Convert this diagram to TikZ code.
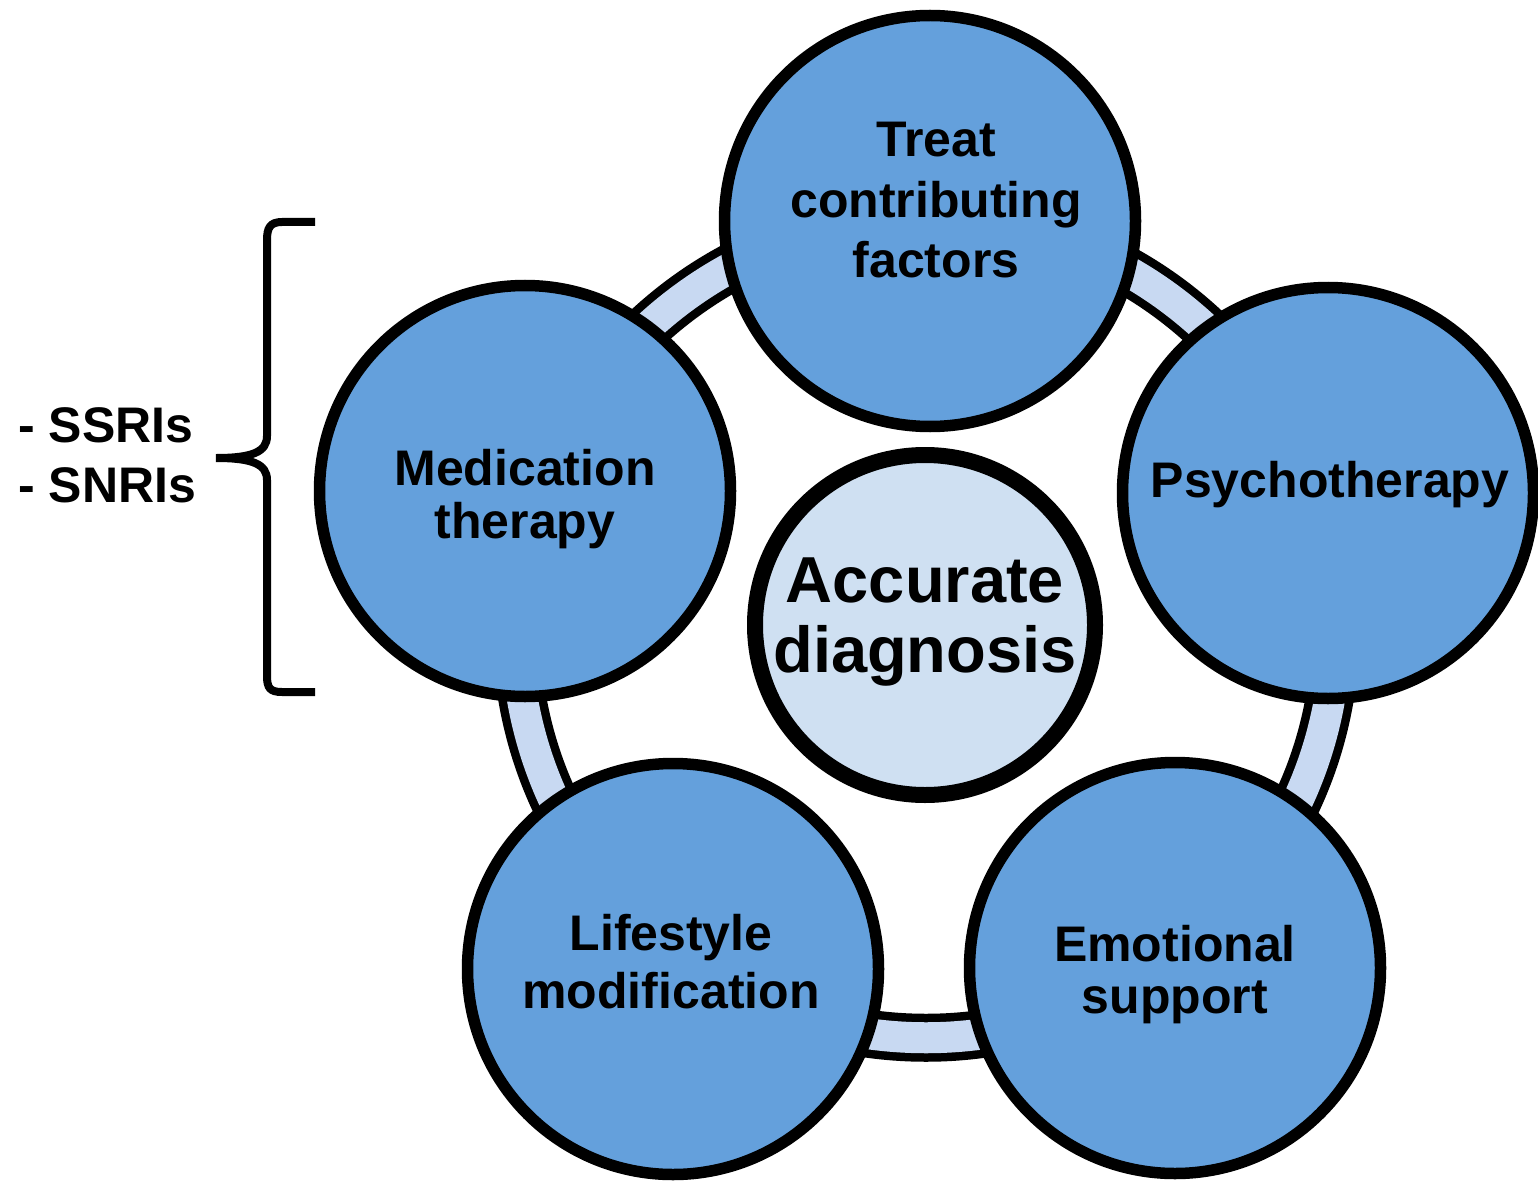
\documentclass[tikz,border=0pt]{standalone}
\usepackage{fontspec}
\setmainfont{Liberation Sans}
\usetikzlibrary{shadows}
\definecolor{nodeblue}{HTML}{64A0DC}
\definecolor{ringblue}{HTML}{C8D9F2}
\definecolor{centerblue}{HTML}{CFE0F2}
\begin{document}
\begin{tikzpicture}[x=1pt,y=-1pt,
  shade/.style={drop shadow={shadow xshift=2pt,shadow yshift=-3pt,opacity=.18,fill=black}},
  outer/.style={circle, draw=black, line width=11.5pt, fill=nodeblue, minimum size=411pt, inner sep=0pt, shade},
  core/.style={circle, draw=black, line width=16pt, fill=centerblue, minimum size=340pt, inner sep=0pt, shade},
  lbl/.style={font=\fontsize{50}{60}\selectfont\bfseries, align=center, anchor=base, inner sep=0pt},
  big/.style={font=\fontsize{65}{70}\selectfont\bfseries, align=center, anchor=base, inner sep=0pt},
  side/.style={font=\fontsize{50}{60}\selectfont\bfseries, align=left, anchor=base west, inner sep=0pt},
 ]
\useasboundingbox (0,0) rectangle (1538,1182);
\coordinate (hub) at (926,628);
\draw[line width=48pt] (hub) circle[radius=409.75];
\draw[line width=31pt, ringblue] (hub) circle[radius=409.75];

\node[outer] (treat) at (930,221) {};
\node[outer] (psych) at (1328,493) {};
\node[outer] (emot) at (1175,968) {};
\node[outer] (life) at (673,969) {};
\node[outer] (med) at (525,491) {};
\node[core] (diag) at (925,625) {};

\node[lbl] (treatT) at (936,277) {Treat\\contributing\\factors};
\node[lbl] (psychT) at (1330,497) {Psychotherapy};
\node[lbl, font=\fontsize{50}{53}\selectfont\bfseries] (medT) at (525,538) {Medication\\therapy};
\node[lbl, font=\fontsize{50}{58}\selectfont\bfseries] (lifeT) at (671,1008) {Lifestyle\\modification};
\node[lbl, font=\fontsize{50}{52}\selectfont\bfseries] (emotT) at (1175,1013) {Emotional\\support};
\node[big] (diagT) at (925,672) {Accurate\\diagnosis};

\node[side] (drugs) at (18,502) {- SSRIs\\- SNRIs};
\coordinate (bt) at (315,222);
\coordinate (bb) at (315,692);
\draw[line width=8pt] (bt) -- (282,222) .. controls (270,222) and (267,228) .. (267,240)
  -- (267,436) .. controls (267,452) and (252,458) .. (216,458)
  .. controls (252,458) and (267,464) .. (267,480)
  -- (267,676) .. controls (267,688) and (270,692) .. (282,692) -- (bb);
\end{tikzpicture}
\end{document}
